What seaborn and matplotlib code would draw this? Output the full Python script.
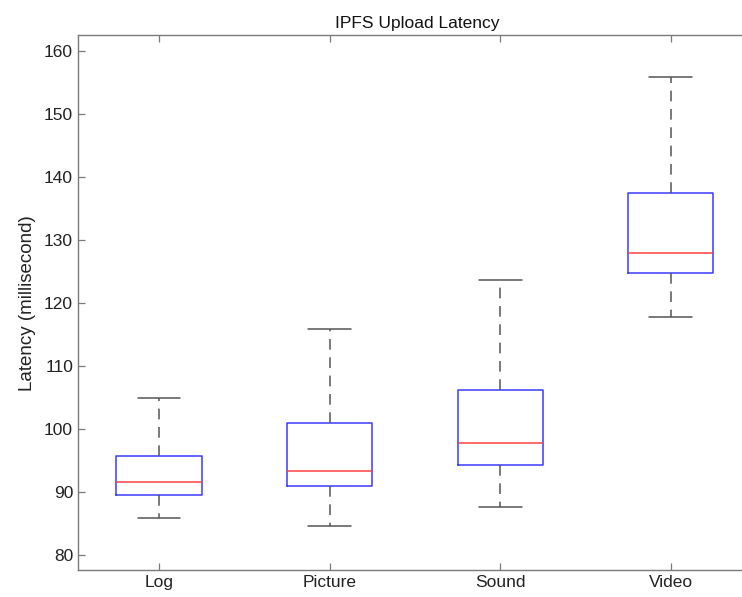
import pandas as pd
import matplotlib.pyplot as plt
import seaborn as sns

# Five-number summaries (min, Q1, median, Q3, max)
categories = ['Log', 'Picture', 'Sound', 'Video']
low = [85.8, 84.6, 87.7, 117.8]
q1 = [89.5, 90.9, 94.3, 124.8]
median = [91.6, 93.4, 97.8, 127.9]
q3 = [95.7, 100.9, 106.2, 137.5]
high = [105.0, 115.8, 123.6, 155.9]

rows = []
for i, cat in enumerate(categories):
    for v in [low[i], q1[i], median[i], q3[i], high[i]]:
        rows.append({'type': cat, 'latency': v})
data = pd.DataFrame(rows)

sns.set_style("white")
plt.rcParams['font.family'] = ['Liberation Sans', 'DejaVu Sans']

fig = plt.figure(figsize=(7.42, 5.97), dpi=100)
ax = fig.add_axes([0.105, 0.045, 0.914, 0.896])

sns.boxplot(
    data=data, x='type', y='latency', order=categories,
    fill=False, width=0.5, whis=(0, 100), ax=ax,
    boxprops=dict(color='#3a3aff', linewidth=1.1),
    medianprops=dict(color='#ff4040', linewidth=1.1),
    whiskerprops=dict(color='#555555', linestyle=(0, (7, 5)), linewidth=1.1),
    capprops=dict(color='#555555', linewidth=1.1),
    showfliers=False,
)

ax.set_xlim(-0.475, 3.5)
ax.set_ylim(77.6, 162.5)
ax.set_yticks(range(80, 161, 10))
ax.set_title('IPFS Upload Latency', fontsize=12.5, color='#111111', pad=5)
ax.set_xlabel('')
ax.set_ylabel('Latency (millisecond)', fontsize=13.5, color='#222222', labelpad=6)

for s in ax.spines.values():
    s.set_color('#7a7a7a')
    s.set_linewidth(1.0)
ax.tick_params(direction='in', length=5, width=0.9, color='#7a7a7a',
               labelsize=12.5, labelcolor='#222222',
               left=True, bottom=True, top=True, right=True)

plt.savefig('out.png', dpi=100)
